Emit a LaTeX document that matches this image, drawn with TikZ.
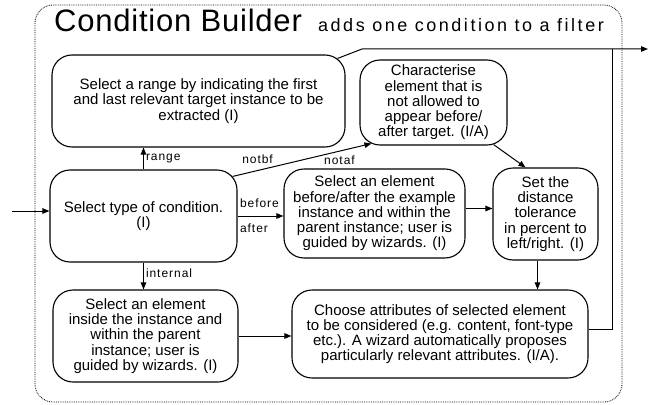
\documentclass[tikz,border=0pt]{standalone}
\usepackage{fontspec}
\setmainfont{Liberation Sans}
\newfontfamily\labelfont[LetterSpace=8]{Liberation Sans}
\newfontfamily\subtitlefont[LetterSpace=14]{Liberation Sans}
\newfontfamily\titlefont[LetterSpace=2.5]{Liberation Sans}
\usetikzlibrary{
    arrows.meta,
    positioning
}
\tikzset{
    line/.style = {
        line width = 1pt,
        -{Triangle[length=7pt, width=5.5pt]}
    },
    arrow/.style = {
        line
    },
    % Connector without tip:
    plain line/.style = {
        line width = 1pt
    },
    % One step of the builder:
    step node/.style = {
        draw,
        line width = 1.1pt,
        rounded corners = 20pt,
        align = center,
        inner sep = 2pt,
        font = \fontsize{15}{15.2}\selectfont
    },
    % Label on a connector:
    edge label/.style = {
        font = \labelfont\fontsize{12}{12}\selectfont,
        inner sep = 2pt
    }
}

\begin{document}
\begin{tikzpicture}[x=1pt, y=-1pt]
    \useasboundingbox (0, 0) rectangle (655, 404);
    % frame and heading
    \draw [densely dotted, line width=0.8pt, rounded corners=18pt] (35, 5) rectangle (622, 402);
    \node [anchor=base west, inner sep=0pt, font=\titlefont\fontsize{31}{31}\selectfont] (title) at (54, 32) {Condition Builder};
    \node [anchor=base west, inner sep=0pt, font=\subtitlefont\fontsize{18}{18}\selectfont] (subtitle) at (318, 32) {adds one condition to a filter};

    \node [step node, minimum width=293pt, minimum height=92pt] (range) at (198.5, 101)
        {Select a range by indicating the first\\and last relevant target instance to be\\extracted (I)};
    \node [step node, minimum width=147pt, minimum height=85pt] (charac) at (433.5, 102.5)
        {Characterise\\element that is\\not allowed to\\appear before/\\after target. (I/A)};
    \node [step node, minimum width=187pt, minimum height=92pt] (select) at (143.5, 216)
        {Select type of condition.\\(I)};
    \node [step node, minimum width=181pt, minimum height=89pt] (before) at (374.5, 213.5)
        {Select an element\\before/after the example\\instance and within the\\parent instance; user is\\guided by wizards. (I)};
    \node [step node, minimum width=105pt, minimum height=92pt] (set) at (545.5, 214)
        {Set the\\distance\\tolerance\\in percent to\\left/right. (I)};
    \node [step node, minimum width=185pt, minimum height=92pt] (internal) at (145.5, 336)
        {Select an element\\inside the instance and\\within the parent\\instance; user is\\guided by wizards. (I)};
    \node [step node, minimum width=296pt, minimum height=88pt] (choose) at (440, 334)
        {Choose attributes of selected element\\to be considered (e.g. content, font-type\\etc.). A wizard automatically proposes\\particularly relevant attributes. (I/A).};

    \coordinate (in) at (12, 211);
    \coordinate (bend) at (362, 49);
    \coordinate (join) at (612, 49);
    \coordinate (out) at (648, 49);
    \coordinate (ba) at ([yshift=5pt]before.east);
    \coordinate (sc) at ([xshift=-8pt]set.south);

    \draw [arrow] (in) -- (in -| select.west);
    \draw [arrow] (select.north) -- (select.north |- range.south)
        node [edge label, pos=0.5, right] {range};
    \draw [arrow] (select.east) -- (select.east -| before.west)
        node [edge label, pos=0, anchor=south west, yshift=6pt] {before}
        node [edge label, pos=0, anchor=north west, yshift=-5pt] {after};
    \draw [arrow] ([shift={(-5, 7)}]select.north east) -- ([shift={(12, -2)}]charac.south west)
        node [edge label, pos=0.18, above=4pt] {notbf}
        node [edge label, pos=0.77, below=2pt] {notaf};
    \draw [arrow] ([shift={(-14, -1)}]charac.south east) -- ([xshift=-20pt]set.north);
    \draw [arrow] (ba) -- (ba -| set.west);
    \draw [arrow] (sc) -- (sc |- choose.north);
    \draw [arrow] (select.south) -- (select.south |- internal.north)
        node [edge label, pos=0.4, right] {internal};
    \draw [arrow] (internal.east) -- (internal.east -| choose.west);
    \draw [arrow] ([shift={(-8, 4)}]range.north east) -- (bend) -- (out);
    \draw [plain line] ([yshift=5pt]choose.east) -| (join);
\end{tikzpicture}
\end{document}
